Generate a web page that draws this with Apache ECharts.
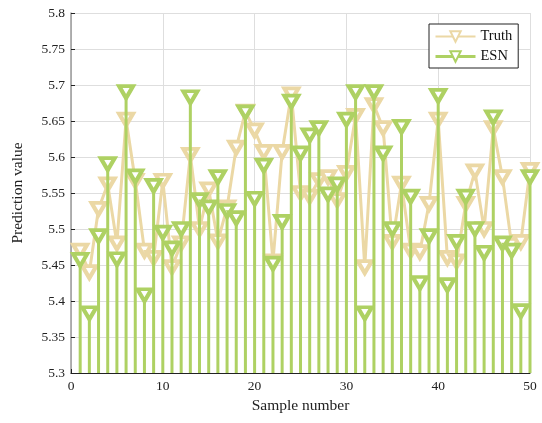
<!DOCTYPE html>
<html>
<head>
<meta charset="utf-8">
<script src="https://cdn.jsdelivr.net/npm/echarts@6/dist/echarts.min.js"></script>
<style>
html,body{margin:0;padding:0;background:#fff;}
#container{width:542px;height:423px;}
</style>
</head>
<body>
<div id="container"></div>
<script>
var samples = [1,2,3,4,5,6,7,8,9,10,11,12,13,14,15,16,17,18,19,20,21,22,23,24,25,
               26,27,28,29,30,31,32,33,34,35,36,37,38,39,40,41,42,43,44,45,46,47,48,49,50];
var truth = [5.47,5.44,5.528,5.562,5.48,5.652,5.567,5.47,5.46,5.567,
             5.447,5.48,5.603,5.5,5.555,5.483,5.53,5.613,5.663,5.637,
             5.607,5.455,5.607,5.687,5.55,5.545,5.568,5.572,5.54,5.578,
             5.657,5.447,5.672,5.64,5.482,5.563,5.47,5.468,5.535,5.652,
             5.46,5.455,5.535,5.58,5.5,5.64,5.572,5.478,5.482,5.582];
var esn = [5.457,5.383,5.49,5.59,5.458,5.69,5.573,5.408,5.56,5.495,
           5.473,5.5,5.683,5.54,5.53,5.572,5.525,5.515,5.662,5.542,
           5.588,5.452,5.51,5.677,5.605,5.63,5.64,5.548,5.562,5.652,
           5.69,5.383,5.69,5.605,5.5,5.642,5.545,5.425,5.49,5.685,
           5.422,5.482,5.545,5.5,5.467,5.655,5.48,5.47,5.386,5.572];

var tan = '#EBD8A5';
var green = '#AED163';
var font = 'Liberation Serif';

function pairs(ys){
    var out = [];
    for (var i = 0; i < samples.length; i++) out.push([samples[i], ys[i]]);
    return out;
}

var myChart = echarts.init(document.getElementById('container'));
var option = {
    animation: false,
    grid: {left: 71, right: 12, top: 13, bottom: 50},
    legend: {
        orient: 'vertical',
        left: 429, top: 24,
        itemWidth: 40, itemHeight: 13, itemGap: 5,
        padding: [5, 6, 4, 5],
        borderColor: '#222', borderWidth: 1,
        backgroundColor: '#fff',
        textStyle: {fontFamily: font, fontSize: 14.5, color: '#111'},
        data: [
            {name: 'Truth'},
            {name: 'ESN', lineStyle: {color: green, width: 3}}
        ]
    },
    xAxis: {
        type: 'value', min: 0, max: 50, interval: 10,
        name: 'Sample number', nameLocation: 'middle', nameGap: 21,
        nameTextStyle: {fontFamily: font, fontSize: 15.5, color: '#222'},
        axisLine: {show: true, lineStyle: {color: '#222'}},
        axisTick: {inside: true, length: 4, lineStyle: {color: '#222'}},
        axisLabel: {fontFamily: font, fontSize: 13.5, color: '#222', margin: 6},
        splitLine: {show: true, lineStyle: {color: '#dedede'}}
    },
    yAxis: {
        type: 'value', min: 5.3, max: 5.8, interval: 0.05,
        name: 'Prediction value', nameLocation: 'middle', nameGap: 45,
        nameTextStyle: {fontFamily: font, fontSize: 15.5, color: '#222'},
        axisLine: {show: true, lineStyle: {color: '#999', width: 1.5}},
        axisTick: {inside: true, length: 4, lineStyle: {color: '#222'}},
        axisLabel: {fontFamily: font, fontSize: 13.5, color: '#222', margin: 6},
        splitLine: {show: true, lineStyle: {color: '#dedede'}}
    },
    series: [{
        name: 'Truth',
        type: 'line',
        data: pairs(truth),
        symbol: 'triangle', symbolRotate: 180, symbolSize: [14, 12],
        lineStyle: {color: tan, width: 3},
        itemStyle: {color: '#fff', borderColor: tan, borderWidth: 4},
        z: 2
    }, {
        name: 'ESNstem',
        type: 'bar',
        data: pairs(esn),
        barWidth: 3,
        silent: true,
        itemStyle: {color: green},
        z: 3
    }, {
        name: 'ESN',
        type: 'line',
        data: pairs(esn),
        symbol: 'triangle', symbolRotate: 180, symbolSize: [14, 12],
        lineStyle: {width: 0, color: green},
        itemStyle: {color: '#fff', borderColor: green, borderWidth: 4},
        z: 4
    }]
};
myChart.setOption(option);
</script>
</body>
</html>
